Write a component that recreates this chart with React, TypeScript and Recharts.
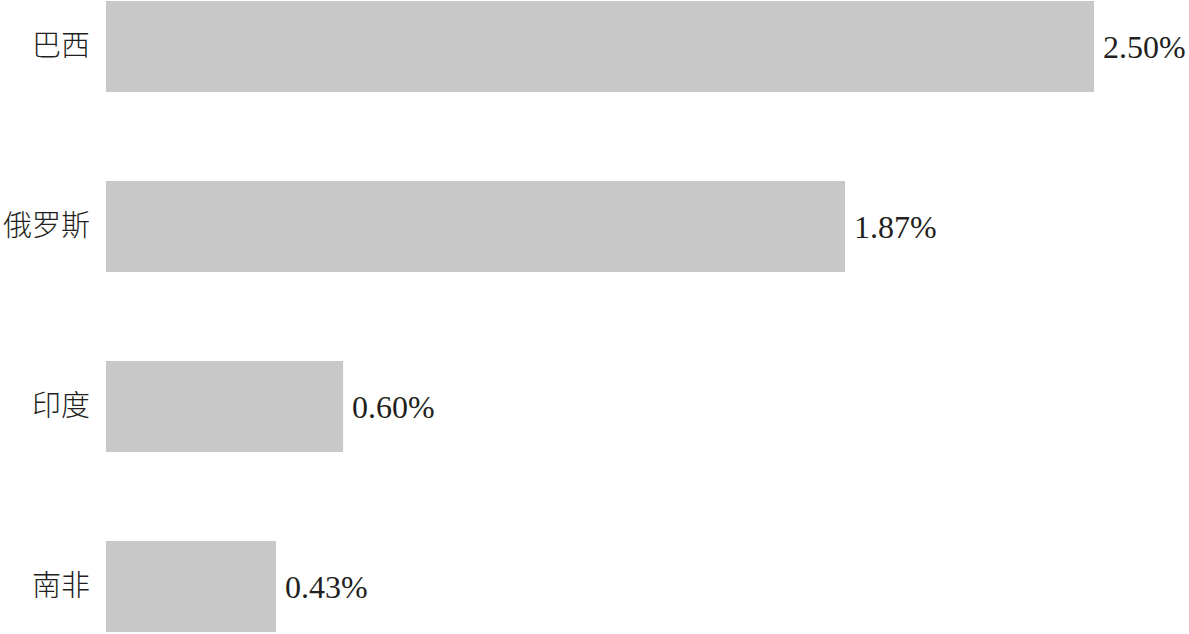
import React from 'react';
import { BarChart, Bar, XAxis, YAxis, LabelList } from 'recharts';

const countries = ['巴西', '俄罗斯', '印度', '南非'];
const shares = [2.5, 1.87, 0.6, 0.43];

const data = countries.map((name, i) => ({ name, value: shares[i] }));

const textColor = '#231f20';
const fontStack = '"Liberation Serif", "Noto Sans CJK SC", serif';

export default function App() {
  return (
    <div style={{ position: 'absolute', left: 0, top: 0, width: 1189, height: 634, overflow: 'hidden', background: '#fff' }}>
      {/* taller chart shifted up so the four bands sit like the original */}
      <div style={{ position: 'absolute', left: 0, top: -44 }}>
        <BarChart
          width={1189}
          height={720}
          data={data}
          layout="vertical"
          margin={{ top: 0, right: 95, bottom: 0, left: 0 }}
        >
          <XAxis type="number" domain={[0, 2.5]} hide />
          <YAxis
            type="category"
            dataKey="name"
            width={106}
            axisLine={false}
            tickLine={false}
            tickSize={0}
            tickMargin={16}
            tick={{ fill: textColor, fontSize: 29, fontWeight: 300, fontFamily: fontStack }}
          />
          <Bar dataKey="value" fill="#c8c8c8" barSize={91} isAnimationActive={false}>
            <LabelList
              dataKey="value"
              position="right"
              offset={9}
              formatter={(v: number) => `${v.toFixed(2)}%`}
              style={{ fill: textColor, fontSize: 32, fontFamily: fontStack }}
            />
          </Bar>
        </BarChart>
      </div>
    </div>
  );
}
